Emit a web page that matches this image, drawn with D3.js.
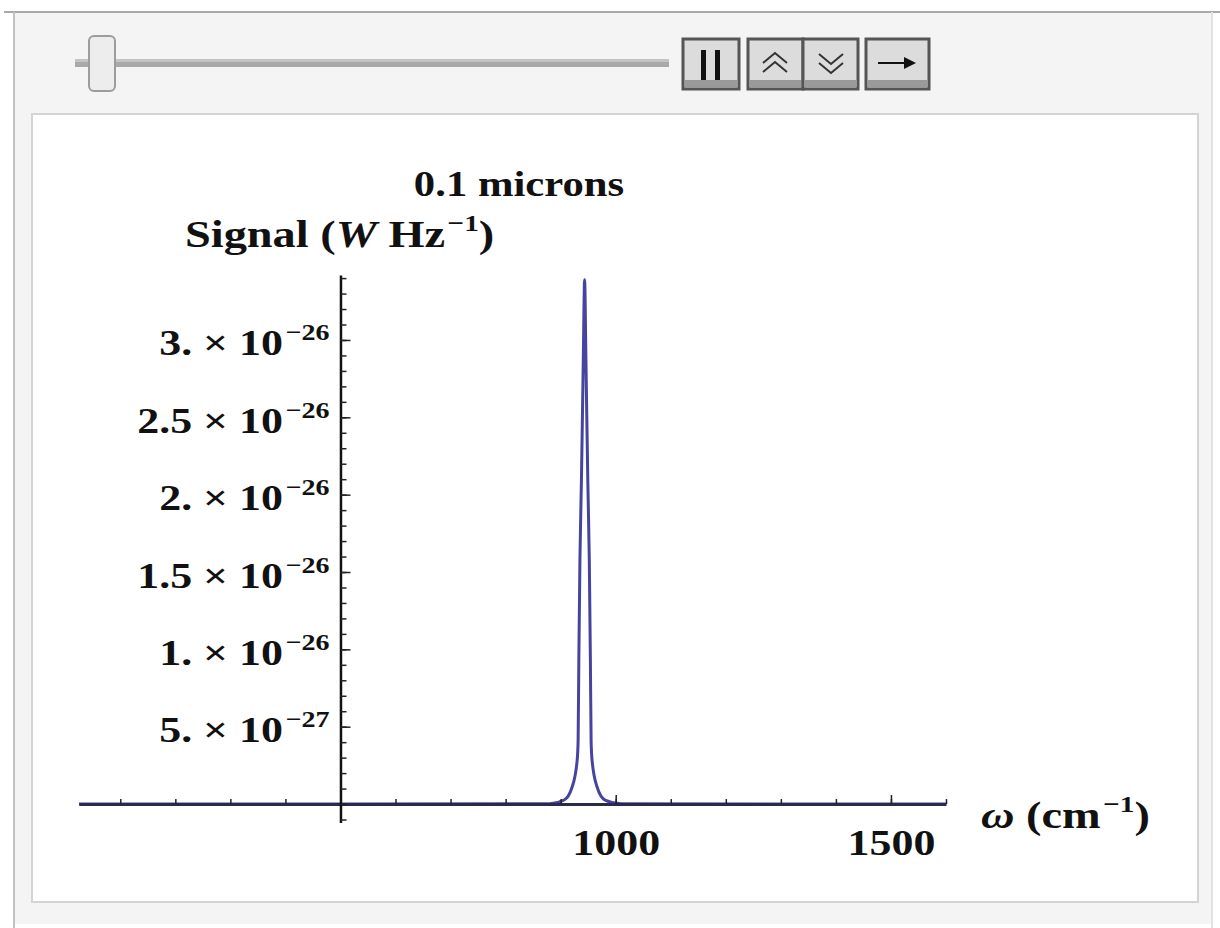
<!DOCTYPE html>
<html>
<head>
<meta charset="utf-8">
<script src="https://cdn.jsdelivr.net/npm/d3@7"></script>
<style>
  body { margin: 0; background: #fff; }
</style>
</head>
<body>
<svg id="chart" width="1220" height="928"></svg>
<script>
// signal in units of 1e-27 W/Hz
const omega = [25, 500, 880, 906.3, 920.8, 929.9, 931.7, 933.0, 935.0, 937.7, 941.1, 943.5,
  945.9, 949.3, 952.0, 954.0, 955.3, 957.1, 966.2, 980.7, 1010, 1600];
const signal = [0, 0, 0.02, 0.26, 1.1, 2.8, 4.1, 9.3, 15.8, 20.9, 28.7, 33.9,
  28.7, 20.9, 15.8, 9.3, 4.1, 2.8, 1.1, 0.26, 0.02, 0];

const yTickValues = [5, 10, 15, 20, 25, 30];
const yTickMantissa = ["5.", "1.", "1.5", "2.", "2.5", "3."];
const yTickExponent = ["\u221227", "\u221226", "\u221226", "\u221226", "\u221226", "\u221226"];
const xTickValues = [1000, 1500];
const xTickLabels = ["1000", "1500"];
const plotTitle = "0.1 microns";

const svg = d3.select("#chart");
const font = "'Liberation Serif','Times New Roman',serif";
const stretch = 1.22;

// ---- outer frame (manipulate panel)
svg.append("rect").attr("x", 14).attr("y", 12).attr("width", 1199).attr("height", 912)
  .attr("fill", "#f4f4f4");
svg.append("line").attr("x1", 4).attr("x2", 1220).attr("y1", 12).attr("y2", 12)
  .attr("stroke", "#a9a9a9").attr("stroke-width", 2);
svg.append("line").attr("x1", 14).attr("x2", 14).attr("y1", 12).attr("y2", 928)
  .attr("stroke", "#c2c2c2").attr("stroke-width", 2);
svg.append("line").attr("x1", 1212).attr("x2", 1212).attr("y1", 12).attr("y2", 928)
  .attr("stroke", "#e2e2e2").attr("stroke-width", 2);
svg.append("rect").attr("x", 32).attr("y", 114).attr("width", 1166).attr("height", 788)
  .attr("fill", "#fff").attr("stroke", "#d4d4d4").attr("stroke-width", 2);

// ---- slider
svg.append("rect").attr("x", 75).attr("y", 59).attr("width", 594).attr("height", 8)
  .attr("fill", "#a9a9a9");
svg.append("rect").attr("x", 75).attr("y", 59).attr("width", 594).attr("height", 3)
  .attr("fill", "#c4c4c4");
svg.append("rect").attr("x", 89).attr("y", 36).attr("width", 26).attr("height", 55).attr("rx", 5)
  .attr("fill", "#ededed").attr("stroke", "#9c9c9c").attr("stroke-width", 2);

// ---- buttons
const buttons = [
  { x: 683, w: 56 }, { x: 748, w: 55 }, { x: 803, w: 55 }, { x: 866, w: 63 }
];
svg.selectAll(".btn").data(buttons).join("rect")
  .attr("class", "btn")
  .attr("x", (d) => d.x).attr("y", 39).attr("width", (d) => d.w).attr("height", 50)
  .attr("fill", "#dcdcdc").attr("stroke", "#555").attr("stroke-width", 3);
svg.selectAll(".btnbase").data(buttons).join("rect")
  .attr("class", "btnbase")
  .attr("x", (d) => d.x + 2).attr("y", 80).attr("width", (d) => d.w - 4).attr("height", 7)
  .attr("fill", "#9a9a9a");
// pause bars
svg.append("rect").attr("x", 701).attr("y", 50).attr("width", 5).attr("height", 30).attr("fill", "#111");
svg.append("rect").attr("x", 715).attr("y", 50).attr("width", 5).attr("height", 30).attr("fill", "#111");
// faster / slower chevrons
const chev = svg.append("g").attr("fill", "none").attr("stroke", "#333").attr("stroke-width", 2);
chev.append("path").attr("d", "M763,63 L775,53 L787,63 M763,72 L775,62 L787,72");
chev.append("path").attr("d", "M819,54 L831,64 L843,54 M819,63 L831,73 L843,63");
// direction arrow
svg.append("line").attr("x1", 878).attr("x2", 906).attr("y1", 63).attr("y2", 63)
  .attr("stroke", "#111").attr("stroke-width", 2);
svg.append("path").attr("d", "M904,57 L916,63 L904,69 Z").attr("fill", "#111");

// ---- plot
const x = d3.scaleLinear().domain([25, 1600]).range([79, 946]);
const y = d3.scaleLinear().domain([-1.2, 34.2]).range([822.6, 275]);
const data = omega.map((w, i) => ({ w, s: signal[i] }));

const line = d3.line()
  .x((d) => x(d.w))
  .y((d) => y(d.s))
  .curve(d3.curveMonotoneX);

const plot = svg.append("g");

plot.append("path")
  .datum(data)
  .attr("d", line)
  .attr("fill", "none")
  .attr("stroke", "#4545a0")
  .attr("stroke-width", 3)
  .attr("stroke-linejoin", "round");

// x axis (crosses at signal = 0), ticks pointing up
const xMinor = plot.append("g")
  .attr("transform", `translate(0,${y(0)})`)
  .call(d3.axisBottom(x).tickValues(d3.range(100, 1700, 100)).tickSize(-5).tickSizeOuter(0).tickFormat(""));
xMinor.select(".domain").attr("stroke", "#2b2b48").attr("stroke-width", 3);
xMinor.selectAll(".tick line").attr("stroke", "#222").attr("stroke-width", 1.5);

const xMajor = plot.append("g")
  .attr("transform", `translate(0,${y(0)})`)
  .call(d3.axisBottom(x).tickValues(xTickValues).tickSize(-9).tickSizeOuter(0).tickPadding(25)
    .tickFormat((d, i) => xTickLabels[i]));
xMajor.select(".domain").remove();
xMajor.selectAll(".tick line").attr("stroke", "#222").attr("stroke-width", 1.5);
xMajor.selectAll(".tick text")
  .attr("font-family", font).attr("font-weight", "bold").attr("font-size", 36)
  .attr("fill", "#111")
  .attr("transform", `scale(${stretch},1)`);

// y axis at omega = 500, ticks pointing right
const yMinor = plot.append("g")
  .attr("transform", `translate(${x(500)},0)`)
  .call(d3.axisLeft(y).tickValues(d3.range(-1, 35, 1)).tickSize(-6).tickSizeOuter(0).tickFormat(""));
yMinor.select(".domain").attr("stroke", "#111").attr("stroke-width", 2.5);
yMinor.selectAll(".tick line").attr("stroke", "#222").attr("stroke-width", 1.5);

const yMajor = plot.append("g")
  .attr("transform", `translate(${x(500)},0)`)
  .call(d3.axisLeft(y).tickValues(yTickValues).tickSize(-10).tickSizeOuter(0).tickFormat(""));
yMajor.select(".domain").remove();
yMajor.selectAll(".tick line").attr("stroke", "#222").attr("stroke-width", 1.5);
yMajor.selectAll(".tick").each(function (d, i) {
  const t = d3.select(this).append("text")
    .attr("transform", `translate(-11,15) scale(${stretch},1)`)
    .attr("text-anchor", "end")
    .attr("font-family", font).attr("font-weight", "bold").attr("font-size", 36)
    .attr("fill", "#111");
  t.append("tspan").text(yTickMantissa[i] + " \u00d7 10");
  t.append("tspan").attr("dy", -15).attr("dx", 2).attr("font-size", 23).text(yTickExponent[i]);
});

// ---- titles
svg.append("text")
  .attr("transform", `translate(519,196) scale(${stretch},1)`)
  .attr("text-anchor", "middle")
  .attr("font-family", font).attr("font-weight", "bold").attr("font-size", 35)
  .attr("fill", "#111")
  .text(plotTitle);

const yLabel = svg.append("text")
  .attr("transform", `translate(185,247) scale(${stretch},1)`)
  .attr("font-family", font).attr("font-weight", "bold").attr("font-size", 38)
  .attr("fill", "#111");
yLabel.append("tspan").text("Signal (");
yLabel.append("tspan").attr("font-style", "italic").text("W");
yLabel.append("tspan").text(" Hz");
yLabel.append("tspan").attr("dy", -16).attr("dx", 2).attr("font-size", 24).text("\u22121");
yLabel.append("tspan").attr("dy", 16).text(")");

const xLabel = svg.append("text")
  .attr("transform", `translate(981,828) scale(${stretch},1)`)
  .attr("font-family", font).attr("font-weight", "bold").attr("font-size", 38)
  .attr("fill", "#111");
xLabel.append("tspan").attr("font-style", "italic").text("\u03c9");
xLabel.append("tspan").text(" (cm");
xLabel.append("tspan").attr("dy", -16).attr("dx", 2).attr("font-size", 24).text("\u22121");
xLabel.append("tspan").attr("dy", 16).text(")");
</script>
</body>
</html>
